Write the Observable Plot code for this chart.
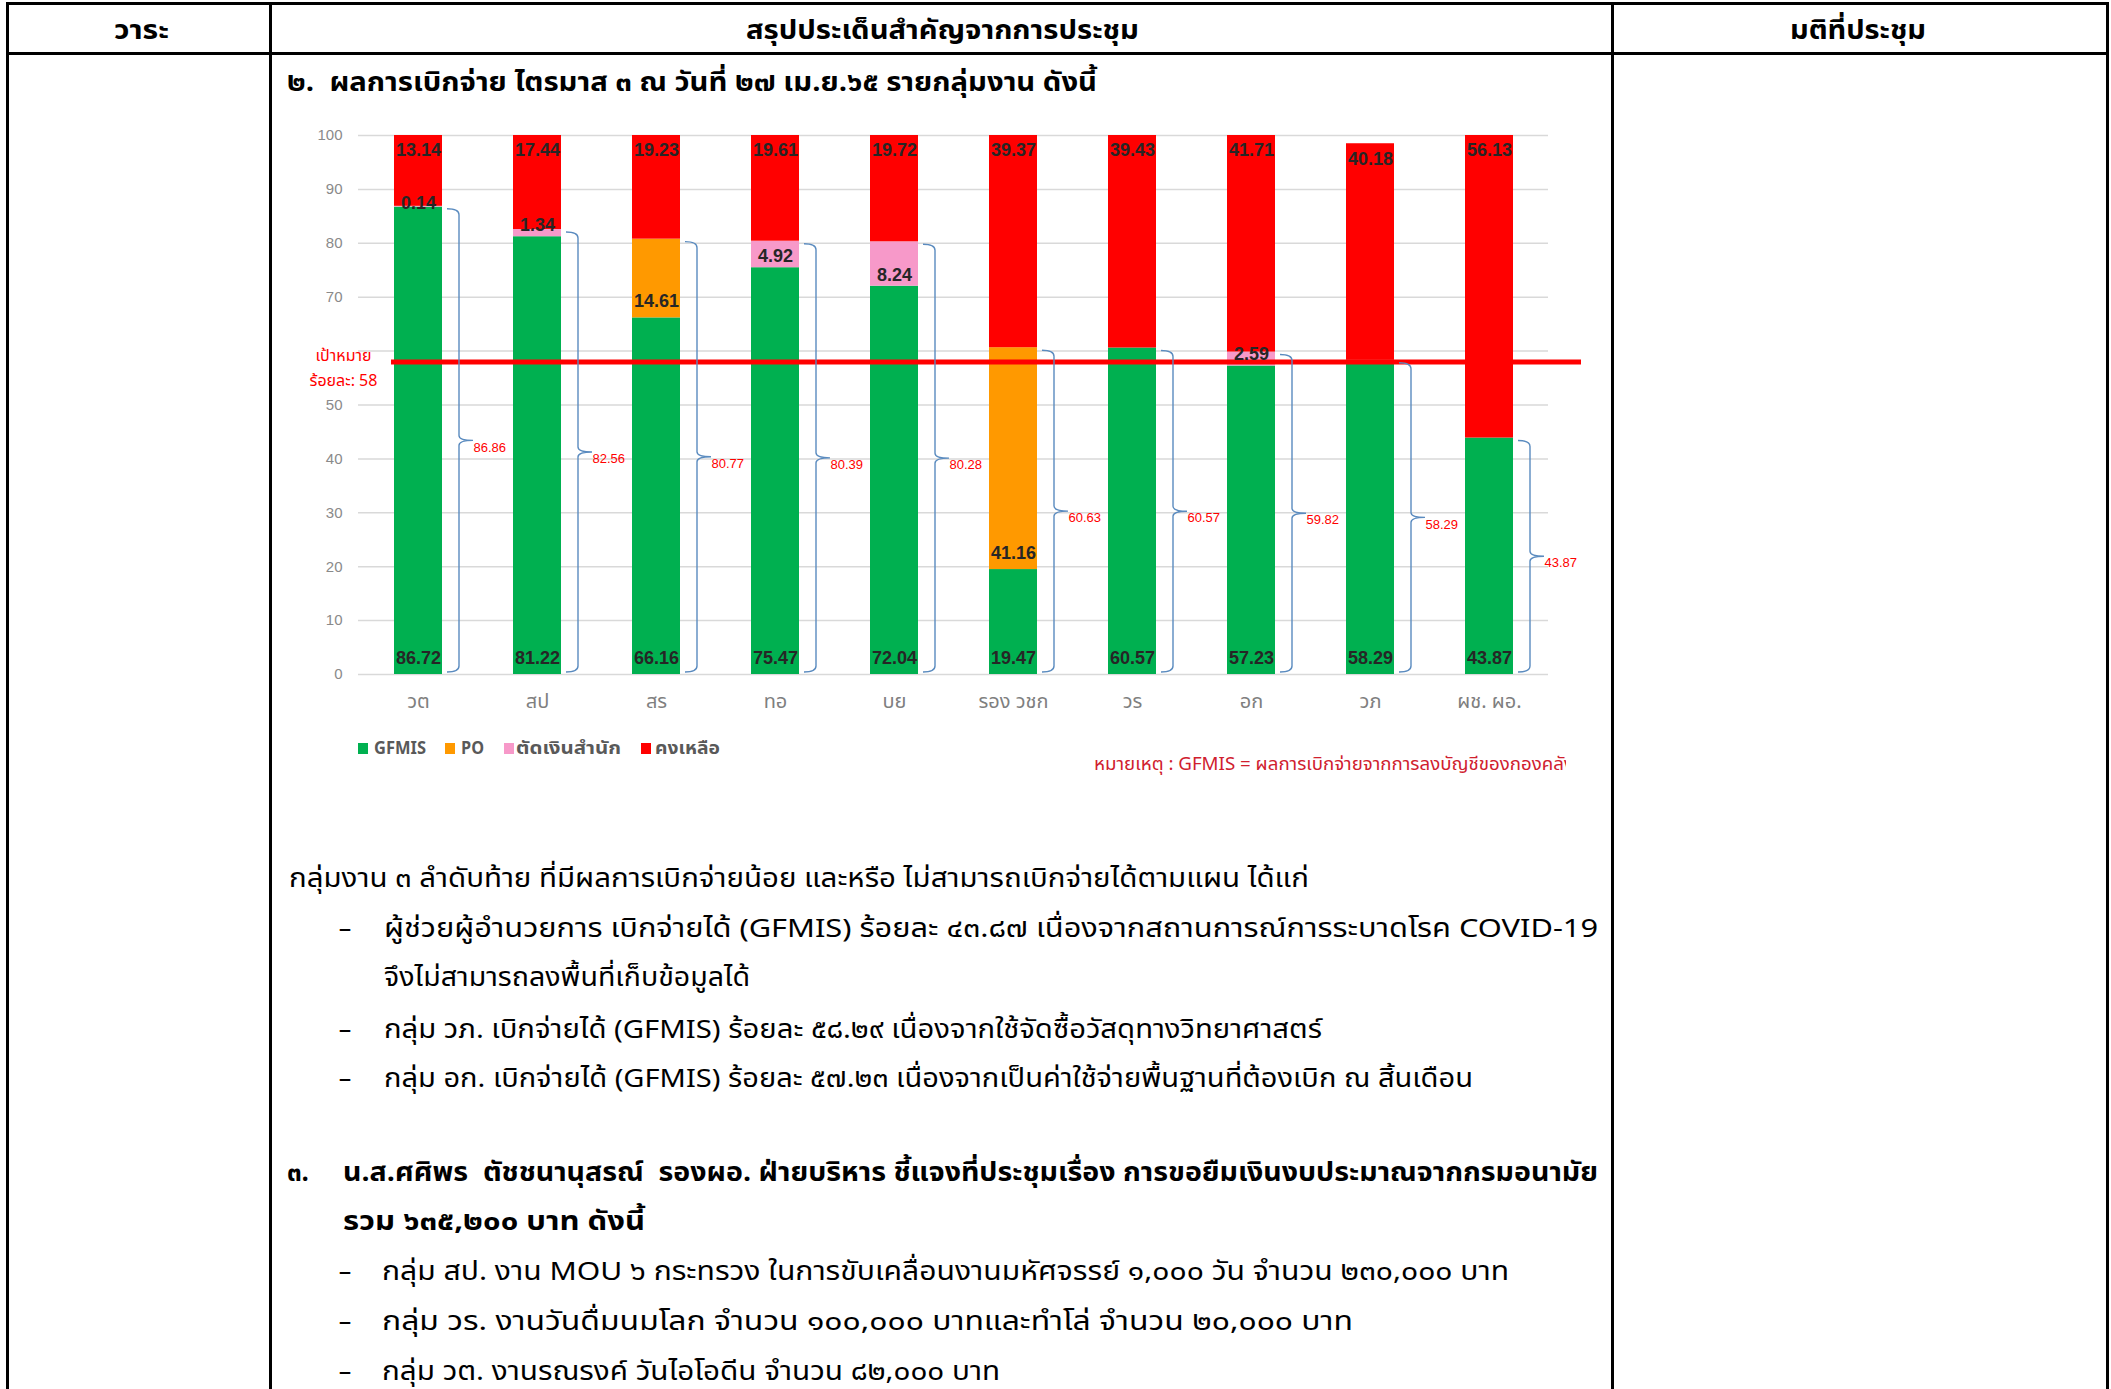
<!DOCTYPE html>
<html><head><meta charset="utf-8">
<script src="https://cdn.jsdelivr.net/npm/d3@7"></script>
<script src="https://cdn.jsdelivr.net/npm/@observablehq/plot@0.6"></script>
<style>
html,body{margin:0;padding:0;background:#fff;width:2111px;height:1389px;overflow:hidden;}
#page{position:relative;width:2111px;height:1389px;font-family:"Noto Sans Thai","Noto Sans Thai UI","Noto Sans",Tahoma,sans-serif;}
.ln{position:absolute;background:#000;}
.t{position:absolute;white-space:pre;line-height:0;transform-origin:0 0;}
#chart{position:absolute;left:280px;top:100px;}
.sw{position:absolute;width:10px;height:11px;}
#noteclip{position:absolute;left:1090px;top:740px;width:476px;height:50px;overflow:hidden;}
</style></head><body><div id="page"><div id="chart"></div><div id="noteclip"></div></div>
<script>
// ---- chart data ----
const categories = ["วต","สป","สร","ทอ","บย","รอง วชก","วร","อก","วภ","ผช. ผอ."];
const seriesNames = ["GFMIS","PO","ตัดเงินสำนัก","คงเหลือ"];
const seriesColors = ["#00b050","#ff9900","#f799c9","#ff0000"];
const gfmis  = [86.72,81.22,66.16,75.47,72.04,19.47,60.57,57.23,58.29,43.87];
const po     = [0,0,14.61,0,0,41.16,0,0,0,0];
const cutOff = [0.14,1.34,0,4.92,8.24,0,0,2.59,0,0];
const remain = [13.14,17.44,19.23,19.61,19.72,39.37,39.43,41.71,40.18,56.13];
const target = 58;
const yTickLabels = [0,10,20,30,40,50,70,80,90,100];
const gridTicks = [0,10,20,30,40,50,60,70,80,90,100];
const noteText = "หมายเหตุ : GFMIS = ผลการเบิกจ่ายจากการลงบัญชีของกองคลัง";

// ---- document text ----
const headers = ["วาระ","สรุปประเด็นสำคัญจากการประชุม","มติที่ประชุม"];
const title2 = "๒.  ผลการเบิกจ่าย ไตรมาส ๓ ณ วันที่ ๒๗ เม.ย.๖๕ รายกลุ่มงาน ดังนี้";
const para = "กลุ่มงาน ๓ ลำดับท้าย ที่มีผลการเบิกจ่ายน้อย และหรือ ไม่สามารถเบิกจ่ายได้ตามแผน ได้แก่";
const bulletsA = [
  "ผู้ช่วยผู้อำนวยการ เบิกจ่ายได้ (GFMIS) ร้อยละ ๔๓.๘๗ เนื่องจากสถานการณ์การระบาดโรค COVID-19",
  "จึงไม่สามารถลงพื้นที่เก็บข้อมูลได้",
  "กลุ่ม วภ. เบิกจ่ายได้ (GFMIS) ร้อยละ ๕๘.๒๙ เนื่องจากใช้จัดซื้อวัสดุทางวิทยาศาสตร์",
  "กลุ่ม อก. เบิกจ่ายได้ (GFMIS) ร้อยละ ๕๗.๒๓ เนื่องจากเป็นค่าใช้จ่ายพื้นฐานที่ต้องเบิก ณ สิ้นเดือน"
];
const title3num = "๓.";
const title3 = "น.ส.ศศิพร  ตัชชนานุสรณ์  รองผอ. ฝ่ายบริหาร ชี้แจงที่ประชุมเรื่อง การขอยืมเงินงบประมาณจากกรมอนามัย";
const title3b = "รวม ๖๓๕,๒๐๐ บาท ดังนี้";
const bulletsB = [
  "กลุ่ม สป. งาน MOU ๖ กระทรวง ในการขับเคลื่อนงานมหัศจรรย์ ๑,๐๐๐ วัน จำนวน ๒๓๐,๐๐๐ บาท",
  "กลุ่ม วร. งานวันดื่มนมโลก จำนวน ๑๐๐,๐๐๐ บาทและทำโล่ จำนวน ๒๐,๐๐๐ บาท",
  "กลุ่ม วต. งานรณรงค์ วันไอโอดีน จำนวน ๘๒,๐๐๐ บาท"
];

const page = document.getElementById("page");

// ---- table lines ----
function line(l,t,w,h){const d=document.createElement("div");d.className="ln";Object.assign(d.style,{left:l+"px",top:t+"px",width:w+"px",height:h+"px"});page.appendChild(d);}
line(6,2,2103,3);
line(6,2,3,1400);
line(2106,2,3,1400);
line(269,2,3,1400);
line(1611,2,3,1400);
line(6,52,2103,3);

// ---- text helper ----
function put(txt,o,parent){
  const d=document.createElement("div");
  d.className="t"; d.textContent=txt;
  d.style.fontSize=o.size+"px"; d.style.fontWeight=o.bold?"700":"400";
  d.style.color=o.color||"#000";
  if(o.font) d.style.fontFamily=o.font;
  (parent||page).appendChild(d);
  const w=d.getBoundingClientRect().width;
  const k=o.width?o.width/w:1;
  const left=o.center!=null?o.center-(o.width||w)/2:o.left;
  d.style.left=left+"px"; d.style.top=o.cy+"px";
  d.style.transform="scaleX("+k+")";
  return d;
}
const S=26;
put(headers[0],{center:141,cy:31,width:55,size:S,bold:true});
put(headers[1],{center:942,cy:31,width:393,size:S,bold:true});
put(headers[2],{center:1858,cy:31,width:136,size:S,bold:true});
put(title2,{left:287,cy:83,width:810,size:S,bold:true});
put(para,{left:289,cy:879,width:1020,size:S});
put("-",{left:338,cy:929,width:14,size:S});
put(bulletsA[0],{left:384,cy:929,width:1214,size:S});
put(bulletsA[1],{left:384,cy:978,width:366,size:S});
put("-",{left:338,cy:1030,width:14,size:S});
put(bulletsA[2],{left:384,cy:1030,width:938,size:S});
put("-",{left:338,cy:1079,width:14,size:S});
put(bulletsA[3],{left:384,cy:1079,width:1089,size:S});
put(title3num,{left:287,cy:1173,width:22,size:S,bold:true});
put(title3,{left:343,cy:1173,width:1255,size:S,bold:true});
put(title3b,{left:343,cy:1222,width:302,size:S,bold:true});
const byB=[1272,1322,1372], bwB=[1127,971,618];
bulletsB.forEach((t,i)=>{put("-",{left:338,cy:byB[i],width:14,size:S});put(t,{left:382,cy:byB[i],width:bwB[i],size:S});});

// ---- build stacked rows ----
const seriesVals=[gfmis,po,cutOff,remain];
const rows=[], labels=[];
const totals=categories.map((c,i)=>gfmis[i]+po[i]+cutOff[i]);
categories.forEach((c,i)=>{
  let cum=0;
  seriesNames.forEach((s,j)=>{
    const v=seriesVals[j][i];
    if(v>0){
      rows.push({cat:c,series:s,value:v,y1:cum,y2:cum+v});
      let ly;
      if(j===3) ly=Math.min(cum+v,100)-2.8;
      else if(j<2) ly=cum+3.1;
      else ly=cum+(v<1?0.7:2.1);
      labels.push({cat:c,value:v,ly});
      cum+=v;
    }
  });
});
const totRows=categories.map((c,i)=>({cat:c,total:totals[i]}));

const numFont='"Liberation Sans",Arial,sans-serif';
const thFont='"Noto Sans Thai","Noto Sans Thai UI","Noto Sans",sans-serif';

const chart=Plot.plot({
  width:1320,height:620,
  marginLeft:78,marginRight:52,marginTop:35,marginBottom:46,
  x:{domain:categories,paddingInner:0.6,paddingOuter:0.3,axis:null},
  y:{domain:[0,100],axis:null},
  color:{domain:seriesNames,range:seriesColors},
  style:{background:"transparent",fontFamily:numFont,overflow:"visible"},
  marks:[
    Plot.ruleY(gridTicks,{stroke:"#d9d9d9",strokeWidth:1.5}),
    Plot.text(yTickLabels,{y:d=>d,frameAnchor:"left",dx:-16,textAnchor:"end",text:d=>String(d),fill:"#8a8a8a",fontSize:15}),
    Plot.text(categories,{x:d=>d,frameAnchor:"bottom",dy:33,text:d=>d,fill:"#7f7f7f",fontSize:20,fontFamily:thFont}),
    Plot.barY(rows,{x:"cat",y1:"y1",y2:"y2",fill:"series",clip:true}),
    Plot.ruleY([target],{stroke:"#ff0000",strokeWidth:5,insetLeft:33,insetRight:-33}),
    Plot.text([target],{y:d=>d,frameAnchor:"left",dx:-15,dy:4,textAnchor:"middle",text:d=>"เป้าหมาย\nร้อยละ: "+d,fill:"#ff0000",fontSize:16,lineHeight:1.55,fontFamily:thFont}),
    Plot.text(labels,{x:"cat",y:"ly",text:d=>d.value.toFixed(2),fill:"#262626",fontWeight:"bold",fontSize:18}),
    Plot.text(totRows,{x:"cat",y:d=>d.total/2,text:d=>d.total.toFixed(2),dx:55,dy:7,textAnchor:"start",fill:"#ff0000",fontSize:13})
  ]
});
document.getElementById("chart").appendChild(chart);

// braces drawn from the chart's own scales
const xs=chart.scale("x"), ys=chart.scale("y");
const bw=xs.bandwidth;
const g=d3.select(chart).append("g").attr("fill","none").attr("stroke","#5a8bbf").attr("stroke-width",1.4);
totRows.forEach(r=>{
  const bx=xs.apply(r.cat)+bw;
  const x0=bx+5,x1=bx+17,xt=bx+31;
  const yTop=ys.apply(r.total)+3,yBot=ys.apply(0)-2,yMid=(yTop+yBot)/2;
  g.append("path").attr("d",
    `M${x0},${yTop}Q${x1},${yTop} ${x1},${yTop+6}L${x1},${yMid-5}Q${x1},${yMid} ${xt},${yMid}Q${x1},${yMid} ${x1},${yMid+5}L${x1},${yBot-6}Q${x1},${yBot} ${x0},${yBot}`);
});

// ---- legend (HTML, from series arrays) ----
const legSq=[358,445,504,641], legTx=[374,461,516,655], legW=[52,23,105,65];
seriesNames.forEach((s,i)=>{
  const sq=document.createElement("div");sq.className="sw";
  Object.assign(sq.style,{left:legSq[i]+"px",top:"743px",background:seriesColors[i]});
  page.appendChild(sq);
  put(s,{left:legTx[i],cy:749,width:legW[i],size:18,bold:true,color:"#595959",font:thFont});
});
// note (clipped like the reference)
put(noteText,{left:4,cy:25,width:480,size:18,color:"#d0202e",font:thFont},document.getElementById("noteclip"));
</script></body></html>
